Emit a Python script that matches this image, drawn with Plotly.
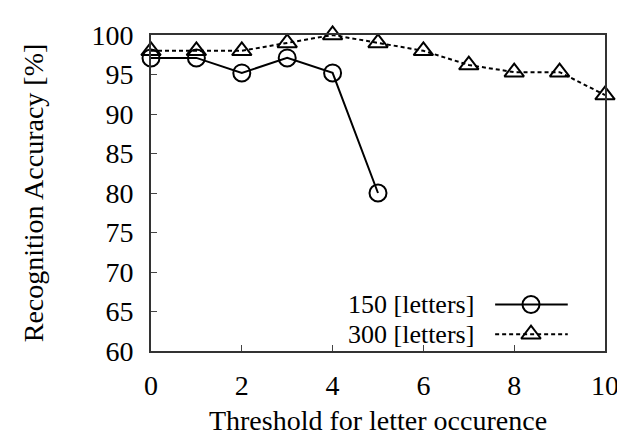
import plotly.graph_objects as go

thresholds_150 = [0, 1, 2, 3, 4, 5]
acc_150 = [97.1, 97.1, 95.2, 97.1, 95.2, 80.0]
thresholds_300 = [0, 1, 2, 3, 4, 5, 6, 7, 8, 9, 10]
acc_300 = [98.0, 98.0, 98.0, 99.0, 100.0, 99.0, 98.0, 96.2, 95.3, 95.3, 92.4]
series_names = ["150 [letters]", "300 [letters]"]
x_ticks = [0, 2, 4, 6, 8, 10]
y_ticks = [60, 65, 70, 75, 80, 85, 90, 95, 100]

FONT = "Liberation Serif"
FS = 28
LW = 2
MS = 17

fig = go.Figure()
fig.add_trace(go.Scatter(
    x=thresholds_150, y=acc_150, mode="lines+markers", name=series_names[0],
    line=dict(color="black", width=LW),
    marker=dict(symbol="circle-open", size=MS, color="black", line=dict(width=LW)),
    showlegend=False, cliponaxis=False))
fig.add_trace(go.Scatter(
    x=thresholds_300, y=acc_300, mode="lines+markers", name=series_names[1],
    line=dict(color="black", width=LW, dash="4px,3px"),
    marker=dict(symbol="triangle-up-open", size=MS, color="black", line=dict(width=LW)),
    showlegend=False, cliponaxis=False))

# gnuplot-style key (text, then sample) on a hidden overlay axis
key_x = [0.758, 0.918]
key_mid = 0.837
key_rows = [0.147, 0.053]
styles = [("solid", "circle-open"), ("4px,3px", "triangle-up-open")]
for (dash, sym), ky, name in zip(styles, key_rows, series_names):
    fig.add_trace(go.Scatter(x=key_x, y=[ky, ky], mode="lines", xaxis="x2", yaxis="y2",
                             line=dict(color="black", width=LW, dash=dash), showlegend=False,
                             hoverinfo="skip"))
    fig.add_trace(go.Scatter(x=[key_mid], y=[ky], mode="markers", xaxis="x2", yaxis="y2",
                             marker=dict(symbol=sym, size=MS, color="black", line=dict(width=LW)),
                             showlegend=False, hoverinfo="skip"))
    fig.add_annotation(x=0.716, y=ky, xref="paper", yref="paper", text=name,
                       showarrow=False, xanchor="right", yanchor="middle",
                       font=dict(family=FONT, size=26, color="black"))

axis_common = dict(showgrid=False, zeroline=False, showline=True, linecolor="#333333",
                   linewidth=2, mirror=True, ticks="inside", ticklen=6, tickwidth=1,
                   tickcolor="#444444",
                   tickfont=dict(family=FONT, size=FS, color="black"))

fig.update_layout(
    width=625, height=435,
    margin=dict(l=143, r=28, t=25, b=84),
    paper_bgcolor="white", plot_bgcolor="white",
    xaxis=dict(range=[0, 10], tickvals=x_ticks, ticklabelstandoff=8,
               title=dict(text="Threshold for letter occurence", standoff=11,
                          font=dict(family=FONT, size=FS, color="black")),
               **axis_common),
    yaxis=dict(range=[60, 100], tickvals=y_ticks, ticklabelstandoff=10,
               title=dict(text="Recognition Accuracy [%]", standoff=40,
                          font=dict(family=FONT, size=FS, color="black")),
               **axis_common),
    xaxis2=dict(overlaying="x", range=[0, 1], visible=False),
    yaxis2=dict(overlaying="y", range=[0, 1], visible=False),
)

fig.write_html("out.html")
